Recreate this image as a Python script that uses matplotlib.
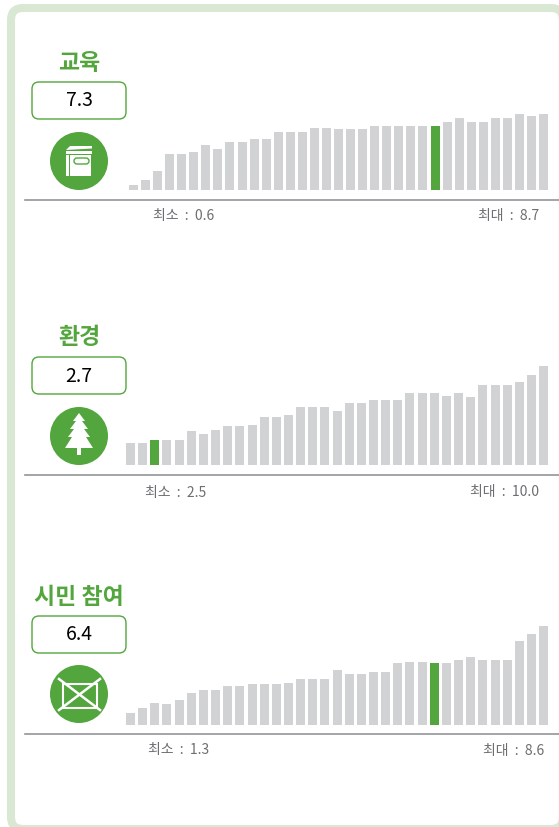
import matplotlib
matplotlib.use('Agg')
import matplotlib.pyplot as plt
from matplotlib.patches import Circle, FancyBboxPatch, Polygon, Rectangle
import numpy as np

W, H = 559, 827
GREEN = '#53a63d'
GREY = '#d0d2d3'
plt.rcParams['font.family'] = ['Noto Sans CJK KR', 'DejaVu Sans']

titles = ['교육', '환경', '시민 참여']
scores = ['7.3', '2.7', '6.4']
min_labels = ['최소  :  0.6', '최소  :  2.5', '최소  :  1.3']
max_labels = ['최대  :  8.7', '최대  :  10.0', '최대  :  8.6']
highlight = [25, 2, 25]

education = [0.6, 1.1, 2.2, 4.1, 4.1, 4.4, 5.2, 4.7, 5.5, 5.5, 5.8, 5.8, 6.6, 6.6, 6.6, 7.1, 7.1, 7.0,
             7.0, 7.0, 7.3, 7.3, 7.3, 7.3, 7.3, 7.3, 7.8, 8.2, 7.8, 7.8, 8.2, 8.2, 8.7, 8.5, 8.7]
environment = [2.2, 2.2, 2.5, 2.5, 2.5, 3.4, 3.1, 3.5, 3.9, 3.9, 4.0, 4.8, 4.8, 5.05, 5.9, 5.9, 5.9, 5.5,
               6.3, 6.3, 6.6, 6.6, 6.6, 7.3, 7.3, 7.3, 7.0, 7.3, 6.9, 8.1, 8.1, 8.1, 8.4, 9.1, 10.0]
participation = [1.0, 1.44, 1.88, 1.79, 2.14, 2.75, 3.01, 3.01, 3.36, 3.36, 3.54, 3.54, 3.54, 3.62, 3.97,
                 3.97, 3.97, 4.76, 4.41, 4.41, 4.58, 4.58, 5.37, 5.46, 5.46, 5.37, 5.37, 5.63, 5.89,
                 5.63, 5.63, 5.63, 7.29, 7.9, 8.6]
series = [education, environment, participation]

# pixels: line y, bar baseline y, first bar x, bar pitch, px per unit
panels = [(200, 190, 129, 12.06, 76 / 8.7),
          (475, 465, 126, 12.15, 99 / 10.0),
          (734, 724.5, 126, 12.15, 98.5 / 8.6)]
title_y = [63, 337, 597]
box_y = [82, 357, 616]
circle_y = [161, 436, 694]
min_pos = [(184, 216), (176, 493), (179, 750)]
max_pos = [(509, 216), (505, 492), (514, 751)]


def draw_book(bg, cx, cy):
    bg.add_patch(Rectangle((cx - 13, cy - 6), 25, 21, fc='white', ec='none'))
    bg.add_patch(Polygon([(cx - 13, cy - 11), (cx - 9, cy - 15), (cx + 13, cy - 15), (cx + 13, cy - 12.5)],
                         fc='white', ec='none'))
    bg.add_patch(Rectangle((cx - 13, cy - 10), 26, 2.5, fc='white', ec='none'))
    bg.add_patch(Rectangle((cx - 10, cy - 6), 1, 21, fc=GREEN, ec='none'))
    bg.add_patch(FancyBboxPatch((cx - 5, cy - 3), 15, 6, boxstyle='round,pad=0,rounding_size=3',
                                fc='white', ec=GREEN, lw=1))


def draw_tree(bg, cx, cy):
    right = [(0, -23), (6, -15), (3, -15), (9, -7), (5, -7), (11, 1), (7, 1), (14, 12), (2, 12), (2, 19)]
    left = [(-x, y) for x, y in reversed(right[1:])]
    bg.add_patch(Polygon([(cx + x, cy + y) for x, y in right + left], fc='white', ec='none'))


def draw_cross(bg, cx, cy):
    bg.add_patch(Rectangle((cx - 16, cy - 10), 34, 24, fc='none', ec='white', lw=1.5))
    bg.plot([cx - 20, cx + 21], [cy + 16, cy - 15], color='white', lw=1.8)
    bg.plot([cx - 20, cx + 21], [cy - 15, cy + 16], color='white', lw=1.8)


icons = [draw_book, draw_tree, draw_cross]

fig = plt.figure(figsize=(W / 100, H / 100), dpi=100, facecolor='white')

# background layer in pixel coordinates
bg = fig.add_axes([0, 0, 1, 1])
bg.set_xlim(0, W)
bg.set_ylim(H, 0)
bg.axis('off')
# frame runs off the right and bottom edge
bg.add_patch(FancyBboxPatch((11, 8), 552, 821, boxstyle='round,pad=0,rounding_size=12',
                            fc='white', ec='#d9e8d2', lw=5.8))

for i in range(3):
    line_y, base_y, x0, pitch, scale = panels[i]
    bg.text(79, title_y[i], titles[i], color=GREEN, fontsize=16.5, fontweight='bold', ha='center', va='center')
    bg.add_patch(FancyBboxPatch((32, box_y[i]), 94, 37, boxstyle='round,pad=0,rounding_size=7',
                                fc='white', ec=GREEN, lw=1))
    bg.text(79, box_y[i] + 19, scores[i], color='black', fontsize=14, ha='center', va='center')
    bg.add_patch(Circle((79, circle_y[i]), 29, fc=GREEN, ec='none'))
    icons[i](bg, 79, circle_y[i])
    bg.text(*min_pos[i], min_labels[i], color='#6d6e71', fontsize=10, ha='center', va='center')
    bg.text(*max_pos[i], max_labels[i], color='#6d6e71', fontsize=10, ha='center', va='center')

    # bar axes: spans from the rule up, spine is the rule itself
    top = base_y - 105
    ax = fig.add_axes([25 / W, 1 - line_y / H, (W - 25) / W, (line_y - top) / H])
    ax.patch.set_alpha(0)
    ax.set_xlim((25 - x0 - 4.5) / pitch, (W - x0 - 4.5) / pitch)
    ax.set_ylim(-(line_y - base_y) / scale, (base_y - top) / scale)
    colors = [GREEN if k == highlight[i] else GREY for k in range(len(series[i]))]
    ax.bar(np.arange(len(series[i])), series[i], width=9 / pitch, color=colors)
    for s in ['top', 'left', 'right']:
        ax.spines[s].set_visible(False)
    ax.spines['bottom'].set_color('#939598')
    ax.spines['bottom'].set_linewidth(1.2)
    ax.set_xticks([])
    ax.set_yticks([])

fig.savefig('out.png', dpi=100)
